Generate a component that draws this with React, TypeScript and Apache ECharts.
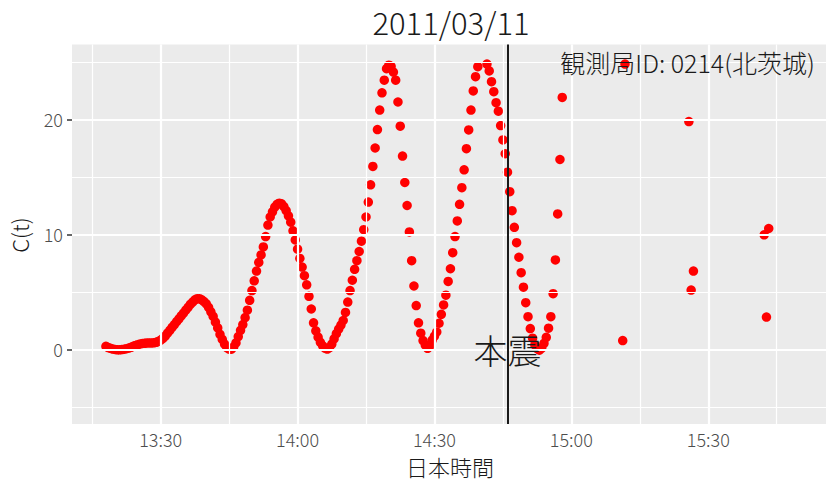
import React, { useEffect, useRef } from "react";
import * as echarts from "echarts";

// ---- texts ----
const chartTitle = "2011/03/11";
const stationLabel = "観測局ID: 0214(北茨城)";
const quakeLabel = "本震";
const xAxisTitle = "日本時間";
const yAxisTitle = "C(t)";

// ---- data ----
// continuous trace, one sample every 30 s starting at traceStart; null = point not shown (off scale)
const traceStart = "13:18:00";
const traceStepSeconds = 30;
const traceValues: (number | null)[] = [
  0.25, 0.15, 0.08, 0.02, -0.02, -0.05, -0.05, -0.03, 0.0, 0.05,
  0.1, 0.17, 0.25, 0.33, 0.4, 0.46, 0.5, 0.52, 0.55, 0.55,
  0.55, 0.56, 0.6, 0.68, 0.8, 0.95, 1.15, 1.4, 1.65, 1.9,
  2.15, 2.4, 2.65, 2.9, 3.15, 3.4, 3.65, 3.9, 4.1, 4.3,
  4.4, 4.4, 4.3, 4.15, 3.95, 3.65, 3.25, 2.85, 2.35, 1.85,
  1.3, 0.85, 0.45, 0.15, 0.0, 0.0, 0.2, 0.55, 1.1, 1.65,
  2.15, 2.75, 3.4, 4.25, 5.1, 5.95, 6.8, 7.55, 8.2, 8.9,
  9.8, 10.8, 11.5, 11.95, 12.35, 12.6, 12.7, 12.65, 12.4, 12.05,
  11.6, 11.05, 10.3, 9.5, 8.7, 7.9, 7.15, 6.4, 5.6, 4.6,
  3.5, 2.3, 1.6, 1.05, 0.6, 0.3, 0.1, 0.02, 0.15, 0.45,
  0.9, 1.35, 1.75, 2.1, 2.5, 3.2, 4.1, 5.1, 6.0, 6.95,
  7.7, 8.5, 9.4, 10.4, 11.5, 12.8, 14.3, 15.9, 17.5, 19.1,
  20.8, 22.3, 23.4, 24.4, 24.7, 24.6, 24.1, 23.4, 21.5, 19.4,
  16.8, 14.5, 12.5, 10.2, 7.7, 5.5, 3.8, 2.3, 1.4, 0.75,
  0.35, 0.08, 0.3, 0.8, 1.15, 1.5, 2.26, 3.04, 3.85, 4.7,
  5.9, 7.0, 8.4, 9.8, 11.16, 12.6, 14.05, 15.6, 17.44, 19.07,
  20.8, 22.46, 23.7, 24.57, null, null, null, 24.8, 24.2, 23.27,
  22.4, 21.44, 20.7, 19.45, 18.2, 17.0, 15.4, 13.7, 12.05, 10.6,
  9.27, 8.0, 6.66, 5.4, 4.05, 2.83, 1.8, 0.96, 0.37, 0.05,
  -0.08, 0.1, 0.52, 1.04, 1.83, 2.83, 4.83, 7.77, 11.77, 16.5,
  21.9,
];

// isolated later points
const lateTimes = ["15:11:15", "15:11:45", "15:25:45", "15:26:15", "15:26:45", "15:42:15", "15:42:45", "15:43:15"];
const lateValues = [0.75, 24.8, 19.8, 5.15, 6.8, 9.95, 2.8, 10.5];

const quakeTime = "14:46:00";

// ---- axes ----
const xMajorBreaks = ["13:30", "14:00", "14:30", "15:00", "15:30"];
const xMinorBreaks = ["13:15", "13:45", "14:15", "14:45", "15:15", "15:45"];
const yMajorBreaks = [0, 10, 20];
const yMinorBreaks = [-5, 5, 15, 25];
const xRange = ["13:10:34", "15:55:48"];
const yRange = [-6.5, 26.5];

const FONT = "'Noto Sans CJK JP', 'Noto Sans', sans-serif";
const WEIGHT = 300;

function toMin(s: string): number {
  const p = s.split(":").map(Number);
  return p[0] * 60 + p[1] + (p[2] || 0) / 60;
}

function fmtTime(v: number): string {
  const h = Math.floor(v / 60 + 1e-9);
  const m = Math.round(v - h * 60);
  return `${h}:${String(m).padStart(2, "0")}`;
}

export default function App() {
  const ref = useRef<HTMLDivElement>(null);

  useEffect(() => {
    document.body.style.margin = "0";
    if (!ref.current) return;
    const chart = echarts.init(ref.current, undefined, { renderer: "svg" });

    const t0 = toMin(traceStart);
    const points: number[][] = [];
    traceValues.forEach((v, i) => {
      if (v !== null) points.push([t0 + (i * traceStepSeconds) / 60, v]);
    });
    lateTimes.forEach((t, i) => points.push([toMin(t), lateValues[i]]));

    const minorStyle = { color: "#FFFFFF", width: 1.2, type: "solid" as const };
    const majorStyle = { color: "#FFFFFF", width: 2.2, type: "solid" as const };
    const gridLines: any[] = [
      ...xMinorBreaks.map((b) => ({ xAxis: toMin(b), lineStyle: minorStyle })),
      ...yMinorBreaks.map((b) => ({ yAxis: b, lineStyle: minorStyle })),
      ...xMajorBreaks.map((b) => ({ xAxis: toMin(b), lineStyle: majorStyle })),
      ...yMajorBreaks.map((b) => ({ yAxis: b, lineStyle: majorStyle })),
    ];

    const txt = (text: string, x: number, y: number, size: number, align: string, extra: any = {}) => ({
      type: "text",
      x,
      y,
      ...extra,
      style: { text, fill: "#1A1A1A", fontSize: size, fontFamily: FONT, fontWeight: WEIGHT, align, verticalAlign: "middle" },
    });

    const staticGraphics: any[] = [
      txt(chartTitle, 451, 21, 31, "center"),
      txt(stationLabel, 815, 62, 25, "right", { z: 10 }),
      txt(xAxisTitle, 450, 466, 22, "center"),
      txt(yAxisTitle, 19, 235, 22, "center", { rotation: Math.PI / 2 }),
    ];

    chart.setOption({
      animation: false,
      grid: {
        left: 72,
        right: 2,
        top: 44.5,
        bottom: 58,
        show: true,
        backgroundColor: "#EBEBEB",
        borderWidth: 0,
      },
      xAxis: {
        type: "value",
        min: toMin(xRange[0]),
        max: toMin(xRange[1]),
        axisLine: { show: false },
        splitLine: { show: false },
        axisTick: {
          show: true,
          customValues: xMajorBreaks.map(toMin),
          length: 5,
          lineStyle: { color: "#333333", width: 1.5 },
        },
        axisLabel: {
          customValues: xMajorBreaks.map(toMin),
          formatter: (v: number) => fmtTime(v),
          color: "#4D4D4D",
          fontSize: 18,
          fontFamily: FONT,
          fontWeight: WEIGHT,
          margin: 6,
        },
      },
      yAxis: {
        type: "value",
        min: yRange[0],
        max: yRange[1],
        axisLine: { show: false },
        splitLine: { show: false },
        axisTick: {
          show: true,
          customValues: yMajorBreaks,
          length: 5,
          lineStyle: { color: "#333333", width: 1.5 },
        },
        axisLabel: {
          customValues: yMajorBreaks,
          color: "#4D4D4D",
          fontSize: 18,
          fontFamily: FONT,
          fontWeight: WEIGHT,
          margin: 9,
        },
      },
      series: [
        {
          name: "grid",
          type: "scatter",
          data: [],
          silent: true,
          z: 1,
          markLine: {
            silent: true,
            symbol: ["none", "none"],
            label: { show: false },
            emphasis: { disabled: true },
            data: gridLines,
          },
        },
        {
          name: "C(t)",
          type: "scatter",
          data: points,
          symbol: "circle",
          symbolSize: 9.5,
          itemStyle: { color: "#FF0000", opacity: 1 },
          silent: true,
          z: 2,
        },
        {
          name: "quake",
          type: "scatter",
          data: [],
          silent: true,
          z: 3,
          markLine: {
            silent: true,
            symbol: ["none", "none"],
            label: { show: false },
            emphasis: { disabled: true },
            data: [{ xAxis: toMin(quakeTime), lineStyle: { color: "#1A1A1A", width: 2, type: "solid" } }],
          },
        },
      ],
      graphic: staticGraphics,
    });

    const qp = chart.convertToPixel({ gridIndex: 0 }, [toMin(quakeTime), 0]) as number[];
    chart.setOption({
      graphic: [...staticGraphics, txt(quakeLabel, qp[0], qp[1], 34, "center", { z: 20 })],
    });

    return () => chart.dispose();
  }, []);

  return <div ref={ref} style={{ width: 828, height: 482 }} />;
}
